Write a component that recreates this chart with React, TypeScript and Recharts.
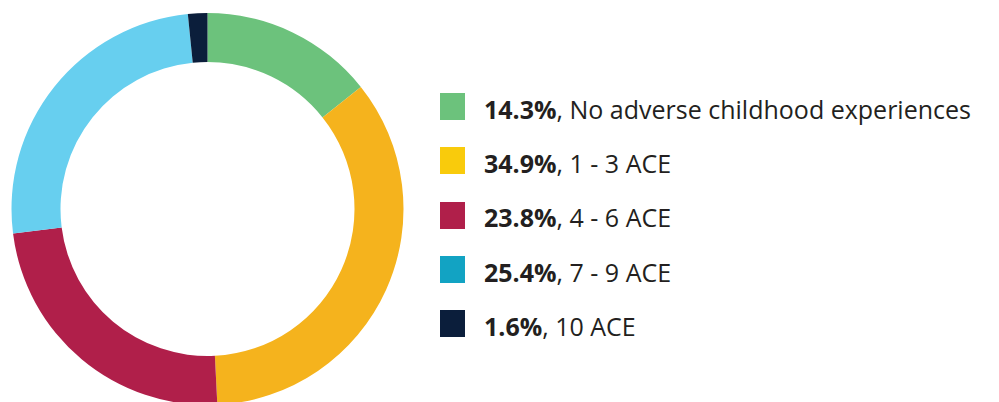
import React from 'react';
import { PieChart, Pie, Cell } from 'recharts';

const labels = ['No adverse childhood experiences', '1 - 3 ACE', '4 - 6 ACE', '7 - 9 ACE', '10 ACE'];
const shares = [14.3, 34.9, 23.8, 25.4, 1.6];
const sliceColors = ['#6CC27C', '#F5B31D', '#B01F4A', '#67CFEF', '#0B1E3B'];
const swatchColors = ['#6CC27C', '#F9CB0C', '#B01F4A', '#12A3C3', '#0B1E3B'];

const data = labels.map((name, i) => ({ name, value: shares[i] }));

function LegendList() {
  return (
    <div
      style={{
        position: 'absolute',
        left: 440,
        top: 79.5,
        fontFamily: '"Open Sans", sans-serif',
        fontSize: 25,
        color: '#231F20',
        whiteSpace: 'nowrap',
      }}
    >
      {data.map((d, i) => (
        <div key={d.name} style={{ display: 'flex', alignItems: 'center', height: 54.3 }}>
          <span style={{ width: 25, height: 27, background: swatchColors[i], display: 'inline-block', marginRight: 19, flexShrink: 0 }} />
          <span style={{ position: 'relative', top: 2 }}>
            <b>{d.value.toFixed(1)}%</b>, {d.name}
          </span>
        </div>
      ))}
    </div>
  );
}

export default function App() {
  return (
    <div style={{ position: 'absolute', left: 0, top: 0, width: 999, height: 402, background: '#fff', overflow: 'hidden' }}>
      <PieChart width={999} height={402} margin={{ top: 0, right: 0, bottom: 0, left: 0 }}>
        <Pie
          data={data}
          dataKey="value"
          nameKey="name"
          cx={207.5}
          cy={209}
          innerRadius={147}
          outerRadius={196}
          startAngle={90}
          endAngle={-270}
          stroke="none"
          isAnimationActive={false}
        >
          {data.map((d, i) => (
            <Cell key={d.name} fill={sliceColors[i]} />
          ))}
        </Pie>
      </PieChart>
      <LegendList />
    </div>
  );
}
